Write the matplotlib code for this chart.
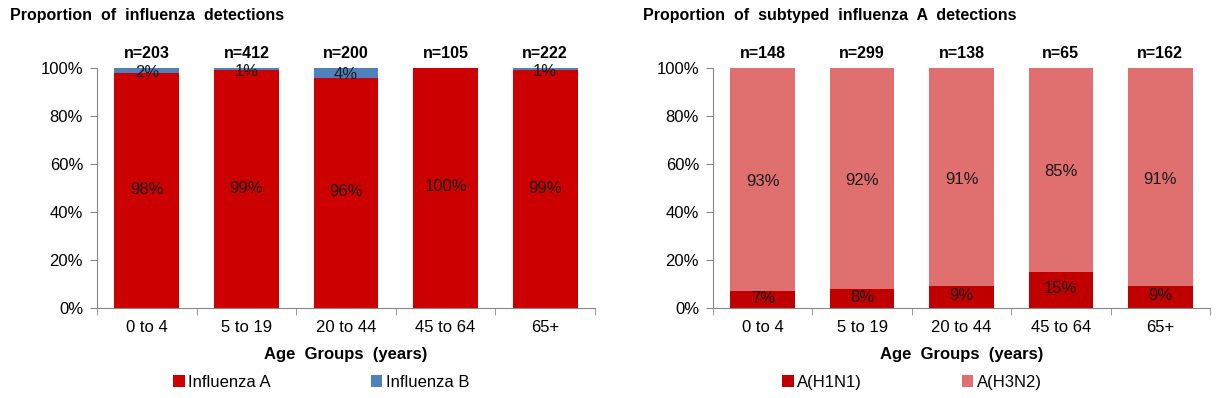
import numpy as np
import matplotlib.pyplot as plt

plt.rcParams['font.family'] = ['Liberation Sans', 'DejaVu Sans']

age_groups = ['0 to 4', '5 to 19', '20 to 44', '45 to 64', '65+']

# left panel: proportion of influenza detections
flu_a = [98, 99, 96, 100, 99]
flu_b = [2, 1, 4, 0, 1]
n_left = [203, 412, 200, 105, 222]

# right panel: subtyped influenza A
h1n1 = [7, 8, 9, 15, 9]
h3n2 = [93, 92, 91, 85, 91]
n_right = [148, 299, 138, 65, 162]

fig = plt.figure(figsize=(12.25, 3.98), dpi=100)
ax1 = fig.add_axes([97 / 1225, 1 - 308 / 398, 498 / 1225, 240 / 398])
ax2 = fig.add_axes([713 / 1225, 1 - 308 / 398, 497 / 1225, 240 / 398])


def draw_panel(ax, bottom_vals, top_vals, n_vals, colors, names, title, title_x, legend_x):
    x = np.arange(len(age_groups))
    w = 0.65
    b1 = ax.bar(x, bottom_vals, w, color=colors[0], label=names[0])
    b2 = ax.bar(x, top_vals, w, bottom=bottom_vals, color=colors[1], label=names[1])
    for i in range(len(x)):
        ax.text(x[i], bottom_vals[i] / 2 + 0.5, f'{bottom_vals[i]}%', ha='center', va='center',
                fontsize=12, color='#1a1a1a')
        if top_vals[i] > 0:
            ax.text(x[i], bottom_vals[i] + top_vals[i] / 2 - 0.8, f'{top_vals[i]}%', ha='center',
                    va='center', fontsize=12, color='#1a1a1a')
        ax.text(x[i], 103, f'n={n_vals[i]}', ha='center', va='bottom', fontsize=11.5,
                fontweight='bold')
    ax.set_xlim(-0.5, len(x) - 0.5)
    ax.set_ylim(0, 100)
    ax.set_yticks(range(0, 101, 20))
    ax.set_yticklabels([f'{v}%' for v in range(0, 101, 20)], fontsize=12)
    ax.set_xticks(x)
    ax.set_xticklabels(age_groups, fontsize=12)
    ax.set_xticks(np.arange(-0.5, len(x), 1), minor=True)
    ax.tick_params(axis='x', which='major', length=0, pad=9)
    ax.tick_params(axis='x', which='minor', length=5, color='#888888')
    ax.tick_params(axis='y', length=5, color='#888888', pad=5)
    for s in ['top', 'right']:
        ax.spines[s].set_visible(False)
    for s in ['left', 'bottom']:
        ax.spines[s].set_color('#888888')
    ax.set_xlabel('Age  Groups  (years)', fontsize=12, fontweight='bold', labelpad=8)
    ax.set_title(title, fontsize=11.5, fontweight='bold', loc='left', x=title_x, y=1.165)
    ax.legend(handles=[b1, b2], loc='center', bbox_to_anchor=(legend_x, -0.31), ncol=2,
              frameon=False, fontsize=12, handlelength=0.7, handleheight=0.7,
              handletextpad=0.2, columnspacing=6.0)


draw_panel(ax1, flu_a, flu_b, n_left, ['#CC0000', '#4F81BD'], ['Influenza A', 'Influenza B'],
           'Proportion  of  influenza  detections', -0.175, 0.45)
draw_panel(ax2, h1n1, h3n2, n_right, ['#C00000', '#E07070'], ['A(H1N1)', 'A(H3N2)'],
           'Proportion  of  subtyped  influenza  A  detections', -0.141, 0.4)

fig.savefig('out.png', dpi=100)
